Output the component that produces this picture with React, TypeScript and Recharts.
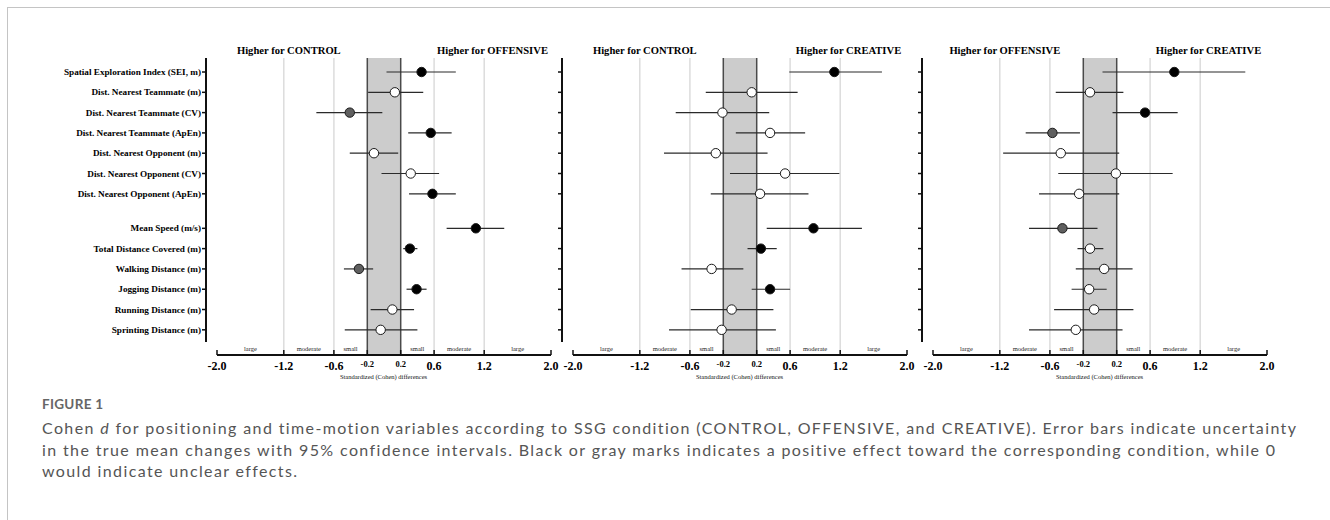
import React from 'react';
import { ComposedChart, Scatter, XAxis, YAxis, ReferenceLine, ReferenceArea, ErrorBar } from 'recharts';

// rows, top to bottom (first 7 = positioning, last 6 = time-motion)
const variables = [
  'Spatial Exploration Index (SEI, m)',
  'Dist. Nearest Teammate (m)',
  'Dist. Nearest Teammate (CV)',
  'Dist. Nearest Teammate (ApEn)',
  'Dist. Nearest Opponent (m)',
  'Dist. Nearest Opponent (CV)',
  'Dist. Nearest Opponent (ApEn)',
  'Mean Speed (m/s)',
  'Total Distance Covered (m)',
  'Walking Distance (m)',
  'Jogging Distance (m)',
  'Running Distance (m)',
  'Sprinting Distance (m)',
];
const positioningCount = 7;

const xTicks = [-2.0, -1.2, -0.6, -0.2, 0.2, 0.6, 1.2, 2.0];
const magnitudes = ['large', 'moderate', 'small', '', 'small', 'moderate', 'large'];
const xTitle = 'Standardized (Cohen) differences';

// CONTROL vs OFFENSIVE
const conOffHeaders = ['Higher for CONTROL', 'Higher for OFFENSIVE'];
const conOffD = [0.45, 0.13, -0.41, 0.56, -0.12, 0.32, 0.58, 1.1, 0.31, -0.3, 0.39, 0.1, -0.04];
const conOffLow = [0.03, -0.19, -0.81, 0.29, -0.41, -0.03, 0.3, 0.75, 0.23, -0.48, 0.27, -0.16, -0.47];
const conOffHigh = [0.86, 0.47, -0.02, 0.81, 0.17, 0.66, 0.86, 1.44, 0.4, -0.13, 0.51, 0.36, 0.4];
const conOffEffect = ['right', 'unclear', 'left', 'right', 'unclear', 'unclear', 'right', 'right', 'right', 'left', 'right', 'unclear', 'unclear'];

// CONTROL vs CREATIVE
const conCreHeaders = ['Higher for CONTROL', 'Higher for CREATIVE'];
const conCreD = [1.13, 0.14, -0.21, 0.36, -0.29, 0.54, 0.24, 0.88, 0.25, -0.34, 0.36, -0.1, -0.22];
const conCreLow = [0.59, -0.41, -0.77, -0.05, -0.91, -0.12, -0.35, 0.32, 0.09, -0.7, 0.14, -0.59, -0.85];
const conCreHigh = [1.7, 0.69, 0.35, 0.78, 0.33, 1.19, 0.82, 1.46, 0.44, 0.04, 0.6, 0.4, 0.43];
const conCreEffect = ['right', 'unclear', 'unclear', 'unclear', 'unclear', 'unclear', 'unclear', 'right', 'right', 'unclear', 'right', 'unclear', 'unclear'];

// OFFENSIVE vs CREATIVE
const offCreHeaders = ['Higher for OFFENSIVE', 'Higher for CREATIVE'];
const offCreD = [0.89, -0.12, 0.54, -0.57, -0.47, 0.19, -0.25, -0.45, -0.12, 0.05, -0.13, -0.07, -0.29];
const offCreLow = [0.03, -0.53, 0.15, -0.89, -1.16, -0.5, -0.73, -0.85, -0.27, -0.29, -0.34, -0.55, -0.85];
const offCreHigh = [1.74, 0.28, 0.93, -0.24, 0.23, 0.87, 0.23, -0.03, 0.04, 0.39, 0.08, 0.4, 0.27];
const offCreEffect = ['right', 'unclear', 'right', 'left', 'unclear', 'unclear', 'unclear', 'left', 'unclear', 'unclear', 'unclear', 'unclear', 'unclear'];

const SERIF = '"Liberation Serif", "Times New Roman", "DejaVu Serif", serif';
const SANS = 'Lato, "Open Sans", "Noto Sans", sans-serif';

const PX_PER_UNIT = 83.5;
const AXIS_GAP = 11;
const X_MIN = -2 - AXIS_GAP / PX_PER_UNIT;
const Y_TOP = -0.69;
const Y_BOTTOM = 13.94;
const Y_AXIS_END = 13.3;
const GROUP_GAP = 0.7;
const HEADER_X = [-1.14, 1.3];

const fills: Record<string, string> = { right: '#000000', left: '#5f5f5f', unclear: '#ffffff' };

const rowPos = (i: number) => i + (i >= positioningCount ? GROUP_GAP : 0);
const rowTicks = variables.map((_, i) => rowPos(i));

const XTick = (props: any) => {
  const { x, y, payload } = props;
  const small = Math.abs(payload.value) < 0.5;
  return (
    <g>
      <line x1={x} x2={x} y1={y} y2={y - 5} stroke="#111" strokeWidth={1.5} />
      <text
        x={x}
        y={y + (small ? 12 : 15)}
        textAnchor="middle"
        fontFamily={SERIF}
        fontWeight="bold"
        fontSize={small ? 8.5 : 12}
        fill="#000"
      >
        {payload.value.toFixed(1)}
      </text>
    </g>
  );
};

const YTick = (props: any) => {
  const { x, y, payload, show } = props;
  if (!show) return <g />;
  return (
    <text x={x} y={y} dy="0.33em" textAnchor="end" fontFamily={SERIF} fontWeight="bold" fontSize={9.2} fill="#000">
      {variables[rowTicks.indexOf(payload.value)]}
    </text>
  );
};

const Dot = (props: any) => {
  const { cx, cy, payload } = props;
  return <circle cx={cx} cy={cy} r={4.7} fill={fills[payload.effect]} stroke="#1a1a1a" strokeWidth={1} />;
};

interface PanelProps {
  left: number;
  labelWidth: number;
  headers: string[];
  d: number[];
  low: number[];
  high: number[];
  effect: string[];
  showLabels: boolean;
}

const Panel = ({ left, labelWidth, headers, d, low, high, effect, showLabels }: PanelProps) => {
  const rows = variables.map((name, i) => ({
    name,
    pos: rowPos(i),
    d: d[i],
    err: [d[i] - low[i], high[i] - d[i]],
    effect: effect[i],
  }));
  const plotWidth = AXIS_GAP + 4 * PX_PER_UNIT;
  const width = labelWidth + plotWidth + 10;
  const zones = magnitudes
    .map((m, i) => ({ m, x: (xTicks[i] + xTicks[i + 1]) / 2 }))
    .filter((z) => z.m);

  return (
    <div style={{ position: 'absolute', left: left - labelWidth, top: 0 }}>
      <ComposedChart width={width} height={390} data={rows} margin={{ top: 58, right: 10, bottom: 5, left: 0 }}>
        <XAxis
          type="number"
          dataKey="d"
          domain={[X_MIN, 2]}
          ticks={xTicks}
          interval={0}
          allowDataOverflow
          axisLine={false}
          tickLine={false}
          tickSize={0}
          tickMargin={0}
          height={30}
          tick={<XTick />}
          label={{ value: xTitle, position: 'insideTop', offset: 19, dx: 5, fontSize: 6.5, fontFamily: SERIF, fill: '#111' }}
        />
        <YAxis
          type="number"
          dataKey="pos"
          domain={[Y_TOP, Y_BOTTOM]}
          reversed
          allowDataOverflow
          ticks={rowTicks}
          interval={0}
          width={labelWidth}
          axisLine={false}
          tickSize={4}
          tickMargin={1}
          tickLine={{ stroke: '#111', strokeWidth: 1.5 }}
          tick={<YTick show={showLabels} />}
        />
        <ReferenceArea x1={-0.2} x2={0.2} fill="#cccccc" fillOpacity={1} stroke="none" />
        {[-1.2, -0.6, 0.6, 1.2].map((v) => (
          <ReferenceLine key={v} x={v} stroke="#dcdcdc" strokeWidth={1.5} />
        ))}
        <ReferenceLine x={-0.2} stroke="#4a4a4a" strokeWidth={1.5} />
        <ReferenceLine x={0.2} stroke="#4a4a4a" strokeWidth={1.5} />
        {zones.map((z, i) => (
          <ReferenceLine
            key={'z' + i}
            x={z.x}
            stroke="none"
            label={{ value: z.m, position: 'insideBottom', offset: 4, fontSize: 6.5, fontFamily: SERIF, fill: '#222' }}
          />
        ))}
        {headers.map((h, i) => (
          <ReferenceLine
            key={'h' + i}
            x={HEADER_X[i]}
            stroke="none"
            label={{ value: h, position: 'top', offset: 4, fontSize: 10.6, fontWeight: 'bold', fontFamily: SERIF, fill: '#000' }}
          />
        ))}
        <ReferenceLine
          segment={[{ x: X_MIN, y: Y_TOP }, { x: X_MIN, y: Y_AXIS_END }]}
          stroke="#111"
          strokeWidth={2}
        />
        <ReferenceLine
          segment={[{ x: -2, y: Y_BOTTOM }, { x: 2, y: Y_BOTTOM }]}
          stroke="#111"
          strokeWidth={1.8}
        />
        <Scatter dataKey="d" isAnimationActive={false} shape={<Dot />}>
          <ErrorBar dataKey="err" direction="x" width={0} stroke="#2a2a2a" strokeWidth={1.2} />
        </Scatter>
      </ComposedChart>
    </div>
  );
};

export default function App() {
  return (
    <div style={{ position: 'absolute', left: 0, top: 0, width: 1330, height: 520, background: '#fff', overflow: 'hidden' }}>
      <div
        style={{
          position: 'absolute',
          left: 7,
          top: 7,
          width: 1340,
          height: 530,
          borderTop: '1.5px solid #c4c4c4',
          borderLeft: '1.5px solid #c4c4c4',
        }}
      />
      <Panel left={206} labelWidth={206} headers={conOffHeaders} d={conOffD} low={conOffLow} high={conOffHigh} effect={conOffEffect} showLabels />
      <Panel left={562} labelWidth={10} headers={conCreHeaders} d={conCreD} low={conCreLow} high={conCreHigh} effect={conCreEffect} showLabels={false} />
      <Panel left={922} labelWidth={10} headers={offCreHeaders} d={offCreD} low={offCreLow} high={offCreHigh} effect={offCreEffect} showLabels={false} />
      <div style={{ position: 'absolute', left: 42, top: 396, fontFamily: SANS, fontSize: 13.5, fontWeight: 700, color: '#666', letterSpacing: 0.3 }}>
        FIGURE 1
      </div>
      <div style={{ position: 'absolute', left: 42, top: 417, fontFamily: SANS, fontSize: 16, lineHeight: '21.5px', color: '#555', whiteSpace: 'nowrap', letterSpacing: 1.38 }}>
        <div>
          Cohen <i>d</i> for positioning and time-motion variables according to SSG condition (CONTROL, OFFENSIVE, and CREATIVE). Error bars indicate uncertainty
        </div>
        <div>
          in the true mean changes with 95% confidence intervals. Black or gray marks indicates a positive effect toward the corresponding condition, while 0
        </div>
        <div>would indicate unclear effects.</div>
      </div>
    </div>
  );
}
